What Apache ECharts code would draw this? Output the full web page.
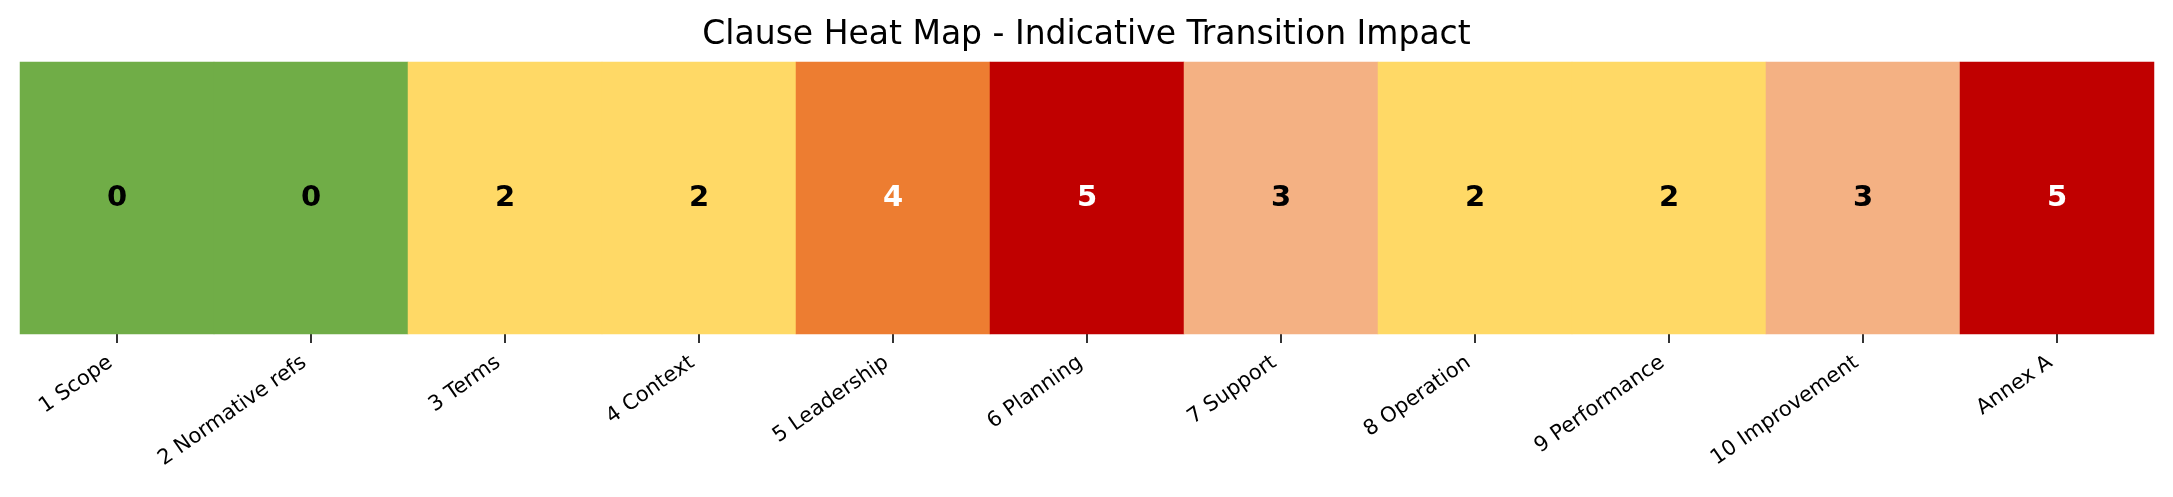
<!DOCTYPE html>
<html>
<head>
<meta charset="utf-8">
<title>Clause Heat Map</title>
<script src="https://cdn.jsdelivr.net/npm/echarts@6/dist/echarts.min.js"></script>
<style>
  html, body { margin: 0; padding: 0; background: #fff; }
  #chart { width: 2173px; height: 497px; }
</style>
</head>
<body>
<div id="chart"></div>
<script>
// Data
const clauses = ['1 Scope', '2 Normative refs', '3 Terms', '4 Context', '5 Leadership',
  '6 Planning', '7 Support', '8 Operation', '9 Performance', '10 Improvement', 'Annex A'];
const impact = [0, 0, 2, 2, 4, 5, 3, 2, 2, 3, 5];
const impactLevels = [0, 1, 2, 3, 4, 5];

// Colour per impact level (green -> red)
const LEVEL_COLORS = ['#70AD47', '#A9D08E', '#FFD966', '#F4B183', '#ED7D31', '#C00000'];
const FONT = '"DejaVu Sans", sans-serif';

const chart = echarts.init(document.getElementById('chart'), null, { renderer: 'canvas' });

chart.setOption({
  backgroundColor: '#fff',
  animation: false,
  title: {
    text: 'Clause Heat Map - Indicative Transition Impact',
    left: 'center',
    top: 14,
    textStyle: { fontFamily: FONT, fontSize: 33, fontWeight: 'normal', color: '#000' }
  },
  grid: { left: 20, right: 19, top: 62, bottom: 163 },
  xAxis: {
    type: 'category',
    data: clauses,
    axisLine: { show: false },
    axisTick: { show: true, alignWithLabel: true, length: 9, lineStyle: { color: '#000', width: 1.6 } },
    axisLabel: {
      rotate: 35, margin: 22, padding: [0, 8, 0, 0],
      fontFamily: FONT, fontSize: 21, color: '#000', interval: 0
    },
    splitLine: { show: false }
  },
  yAxis: {
    type: 'category',
    data: [''],
    show: false
  },
  visualMap: {
    type: 'piecewise',
    show: false,
    dimension: 2,
    pieces: impactLevels.map((v, i) => ({ value: v, color: LEVEL_COLORS[i] }))
  },
  series: [{
    type: 'heatmap',
    data: impact.map((v, i) => ({
      value: [i, 0, v],
      label: { color: v >= 4 ? '#fff' : '#000' }
    })),
    label: {
      show: true,
      formatter: p => p.value[2],
      fontFamily: FONT,
      fontSize: 29,
      fontWeight: 'bold'
    },
    itemStyle: { borderWidth: 0 },
    emphasis: { disabled: true }
  }]
});
</script>
</body>
</html>
